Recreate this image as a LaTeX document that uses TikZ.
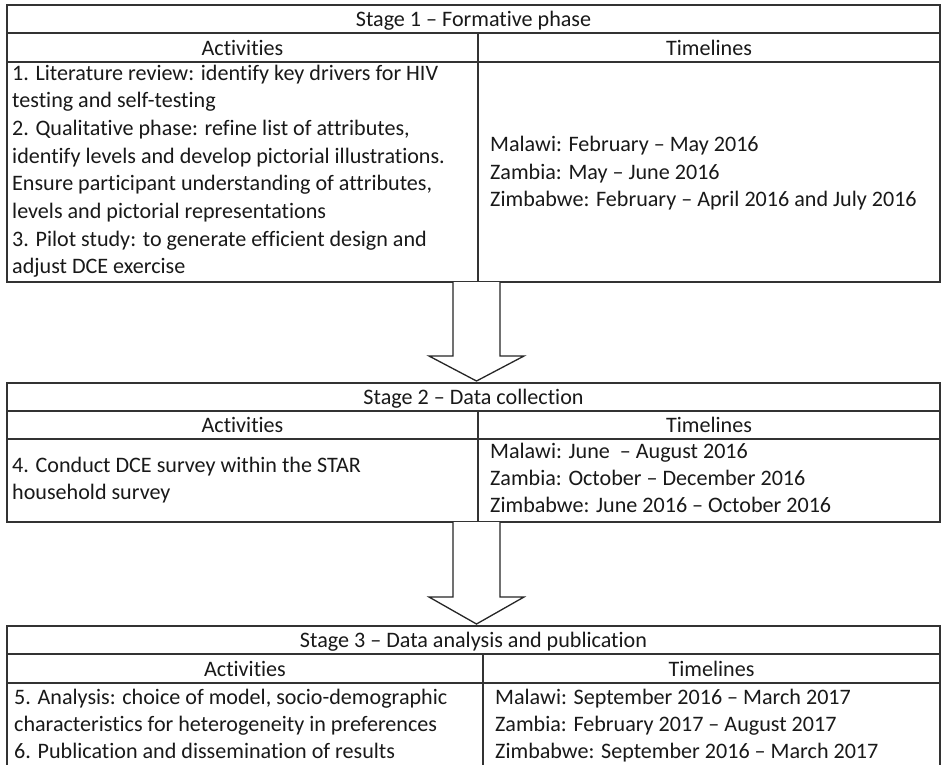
\documentclass[tikz,border=0pt]{standalone}
\usepackage{fontspec}
\setmainfont{Carlito}[Ligatures=NoCommon]
\usetikzlibrary{calc}
\begin{document}
\begin{tikzpicture}[x=1pt,y=-1pt,
  tline/.style={draw=black!80, line width=1.3pt},
  txt/.style={inner sep=0pt, anchor=base west, font=\fontsize{22.1}{27}\selectfont, text=black!90},
  hdr/.style={inner sep=0pt, anchor=base, font=\fontsize{22.1}{27}\selectfont, text=black!90},
  blockarrow/.style={draw=black!85, line width=1.3pt, fill=white, line join=miter}]
\useasboundingbox (0,0) rectangle (942,764);
\fill[white] (0,0) rectangle (942,764);

% ---------- Stage 1 ----------
\draw[tline] (7,5) rectangle (940,282);
\draw[tline] (7,33) -- (940,33);
\draw[tline] (7,62) -- (940,62);
\draw[tline] (478,33) -- (478,282);
\coordinate (t1bot) at (476.5,282);
\node[hdr] (s1h) at (473.5,26) {Stage 1 – Formative phase};
\node[hdr] (s1a) at (242.5,55) {Activities};
\node[hdr] (s1t) at (709,55) {Timelines};
\node[txt] (s1l1) at (12,80) {1. Literature review: identify key drivers for HIV};
\node[txt] (s1l2) at (12,107.7) {testing and self-testing};
\node[txt] (s1l3) at (12,135.4) {2. Qualitative phase: refine list of attributes,};
\node[txt] (s1l4) at (12,163.1) {identify levels and develop pictorial illustrations.};
\node[txt] (s1l5) at (12,190.8) {Ensure participant understanding of attributes,};
\node[txt] (s1l6) at (12,218.5) {levels and pictorial representations};
\node[txt] (s1l7) at (12,246.2) {3. Pilot study: to generate efficient design and};
\node[txt] (s1l8) at (12,273.9) {adjust DCE exercise};
\node[txt] (s1r1) at (490,151.3) {Malawi: February – May 2016};
\node[txt] (s1r2) at (490,179) {Zambia: May – June 2016};
\node[txt] (s1r3) at (490,206.7) {Zimbabwe: February – April 2016 and July 2016};

% ---------- Stage 2 ----------
\draw[tline] (7,383) rectangle (940,522);
\draw[tline] (7,411) -- (940,411);
\draw[tline] (7,439) -- (940,439);
\draw[tline] (478,411) -- (478,522);
\coordinate (t2top) at (476.5,383);
\coordinate (t2bot) at (476.5,522);
\node[hdr] (s2h) at (473.5,404) {Stage 2 – Data collection};
\node[hdr] (s2a) at (242.5,432) {Activities};
\node[hdr] (s2t) at (709,432) {Timelines};
\node[txt] (s2l1) at (12,472) {4. Conduct DCE survey within the STAR};
\node[txt] (s2l2) at (12,499) {household survey};
\node[txt] (s2r1) at (490,458) {Malawi: June \ – August 2016};
\node[txt] (s2r2) at (490,485) {Zambia: October – December 2016};
\node[txt] (s2r3) at (490,512) {Zimbabwe: June 2016 – October 2016};

% ---------- Stage 3 ----------
\draw[tline] (7,766) -- (7,626) -- (940,626) -- (940,766);
\draw[tline] (7,654) -- (940,654);
\draw[tline] (7,683) -- (940,683);
\draw[tline] (483,654) -- (483,766);
\coordinate (t3top) at (476.5,626);
\node[hdr] (s3h) at (473.5,647) {Stage 3 – Data analysis and publication};
\node[hdr] (s3a) at (245,676) {Activities};
\node[hdr] (s3t) at (711.5,676) {Timelines};
\node[txt] (s3l1) at (14,704) {5. Analysis: choice of model, socio-demographic};
\node[txt] (s3l2) at (14,731) {characteristics for heterogeneity in preferences};
\node[txt] (s3l3) at (14,758) {6. Publication and dissemination of results};
\node[txt] (s3r1) at (495,704) {Malawi: September 2016 – March 2017};
\node[txt] (s3r2) at (495,731) {Zambia: February 2017 – August 2017};
\node[txt] (s3r3) at (495,758) {Zimbabwe: September 2016 – March 2017};

% ---------- block arrows ----------
\draw[blockarrow] ($(t1bot)+(-23.5,0)$) -- ($(t1bot)+(-23.5,74)$) -- ($(t1bot)+(-47.5,74)$)
  -- ($(t2top)+(0,-2)$) -- ($(t1bot)+(47.5,74)$) -- ($(t1bot)+(23.5,74)$) -- ($(t1bot)+(23.5,0)$);
\draw[blockarrow] ($(t2bot)+(-23.5,0)$) -- ($(t2bot)+(-23.5,75)$) -- ($(t2bot)+(-47.5,75)$)
  -- ($(t3top)+(0,-2)$) -- ($(t2bot)+(47.5,75)$) -- ($(t2bot)+(23.5,75)$) -- ($(t2bot)+(23.5,0)$);
\end{tikzpicture}
\end{document}
